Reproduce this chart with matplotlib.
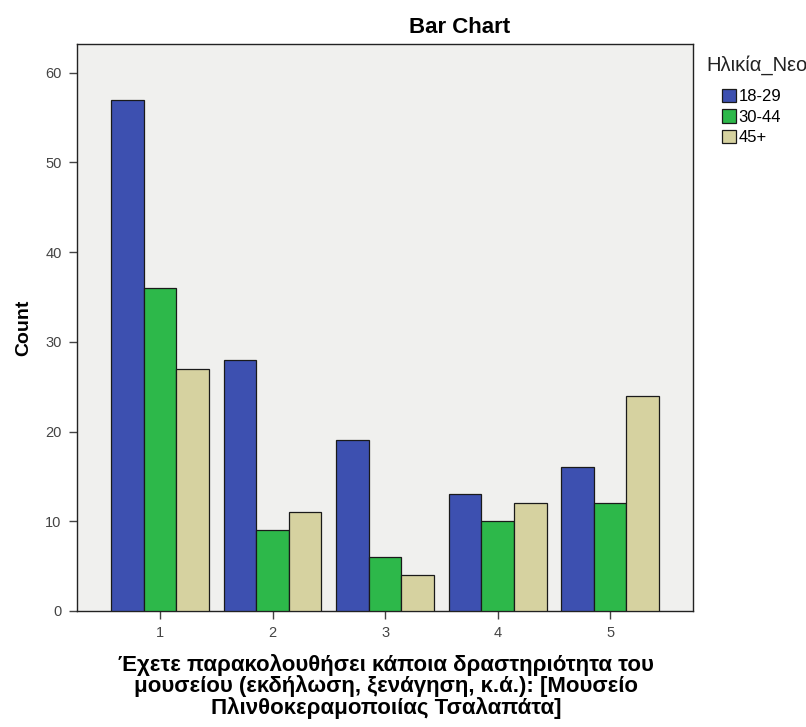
import matplotlib.pyplot as plt
import numpy as np

plt.rcParams['font.family'] = ['Liberation Sans', 'DejaVu Sans']

# data
categories = ['1', '2', '3', '4', '5']
age_groups = ['18-29', '30-44', '45+']
counts_18_29 = [57, 28, 19, 13, 16]
counts_30_44 = [36, 9, 6, 10, 12]
counts_45 = [27, 11, 4, 12, 24]
bar_colors = ['#3d50b0', '#2db84a', '#d6d2a0']

fig = plt.figure(figsize=(8.06, 7.27), dpi=100)
ax = fig.add_axes([0.0955, 0.1596, 0.7645, 0.78])
ax.set_facecolor('#f0f0ee')

x = np.arange(1, len(categories) + 1)
w = 0.29
for i, (vals, lab) in enumerate(zip([counts_18_29, counts_30_44, counts_45], age_groups)):
    ax.bar(x + (i - 1) * w, vals, w, color=bar_colors[i], edgecolor='#1a1a1a',
           linewidth=0.9, label=lab, zorder=3)

ax.set_xlim(0.262, 5.738)
ax.set_ylim(0, 63.2)
ax.set_xticks(x)
ax.set_xticklabels(categories)
ax.set_yticks(np.arange(0, 61, 10))
ax.tick_params(colors='#444444', labelsize=10.5, length=6, width=1, pad=5)
for s in ax.spines.values():
    s.set_color('#222222')
    s.set_linewidth(1)

# title sits right of the axes centre in the original
fig.text(460 / 806, 1 - 33 / 727, 'Bar Chart', fontsize=16, fontweight='bold',
         ha='center', va='baseline')
ax.set_ylabel('Count', fontsize=14, fontweight='bold')
ax.yaxis.set_label_coords(-0.073, 0.5)
fig.text(386 / 806, 1 - 654 / 727,
         'Έχετε παρακολουθήσει κάποια δραστηριότητα του\n'
         'μουσείου (εκδήλωση, ξενάγηση, κ.ά.): [Μουσείο\n'
         'Πλινθοκεραμοποιίας Τσαλαπάτα]',
         fontsize=16, fontweight='bold', ha='center', va='top',
         multialignment='center', linespacing=0.97)

# legend title placed separately, entries indented below it
fig.text(706 / 806, 1 - 65 / 727, 'Ηλικία_Νεο', fontsize=14.5, va='center', ha='left',
         color='#222222')
leg = fig.legend(loc='upper left', bbox_to_anchor=(722 / 806, 1 - 89 / 727),
                 frameon=False, fontsize=12,
                 handlelength=0.85, handleheight=0.85, handletextpad=0.15,
                 labelspacing=0.3, borderpad=0, borderaxespad=0)

fig.savefig('out.png', dpi=100)
